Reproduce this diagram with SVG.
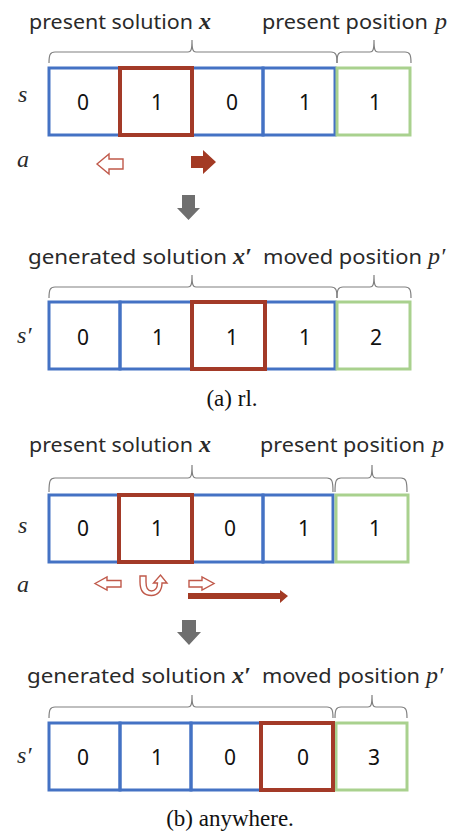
<svg xmlns="http://www.w3.org/2000/svg" width="458" height="831" viewBox="0 0 458 831">
<style>
.lbl{font-family:"Noto Sans","Open Sans",sans-serif;font-size:20.5px;fill:#2a2a2a}
.math{font-family:"Liberation Serif","DejaVu Serif",serif;font-style:italic;font-size:24px;fill:#2a2a2a}
.bx{font-weight:bold}
.dig{font-family:"Noto Sans","Open Sans",sans-serif;font-size:21px;fill:#111;text-anchor:middle}
.cap{font-family:"Liberation Serif","Times New Roman",serif;font-size:23px;fill:#111;text-anchor:middle}
.brace{fill:none;stroke:#808080;stroke-width:1.2}
.b{fill:none;stroke:#4472C4;stroke-width:3}
.r{fill:none;stroke:#A33A28;stroke-width:4}
.g{fill:none;stroke:#A9D18E;stroke-width:3}
.hol{fill:#fff;stroke:#C0594A;stroke-width:1.4;stroke-linejoin:miter}
.fil{fill:#A33A24}
.down{fill:#6F6F6F}
</style>

<!-- Panel (a) -->
<g id="a-top-labels">
<text class="lbl" x="29" y="29" textLength="164" lengthAdjust="spacingAndGlyphs">present solution</text>
<text class="math bx" x="199" y="29">x</text>
<text class="lbl" x="262" y="29" textLength="166" lengthAdjust="spacingAndGlyphs">present position</text>
<text class="math" x="435" y="29">p</text>
</g>
<g id="a-braces-top">
<path class="brace" d="M49,63 C49,55 50,52 55,52 H188 C191,52 192,50 192,40 C192,50 193,52 196,52 H331 C336,52 337,55 337,63"/>
<path class="brace" d="M337,63 C337,55 338,52 343,52 H370 C373,52 374,50 374,40 C374,50 375,52 378,52 H405 C410,52 411,55 411,63"/>
</g>
<g id="a-s-row">
<text class="math" x="18" y="102">s</text>
<rect class="b" x="49" y="68" width="71" height="67"/>
<rect class="b" x="192" y="68" width="71" height="67"/>
<rect class="b" x="263" y="68" width="72" height="67"/>
<rect class="g" x="337" y="68" width="73" height="67"/>
<rect class="r" x="120" y="68" width="72" height="67"/>
<text class="dig" x="83" y="110">0</text>
<text class="dig" x="157" y="110">1</text>
<text class="dig" x="232" y="110">0</text>
<text class="dig" x="305" y="110">1</text>
<text class="dig" x="375" y="110">1</text>
</g>
<g id="a-actions">
<text class="math" x="17" y="167">a</text>
<polygon class="hol" points="97,164 109,154 109,159 123,159 123,169 109,169 109,174"/>
<polygon class="fil" points="191,156 203,156 203,150 216,162 203,174 203,168 191,168"/>
</g>
<g id="a-down">
<polygon class="down" points="182,195 195,195 195,208 200,208 188.5,220 177,208 182,208"/>
</g>
<g id="a-bottom-labels">
<text class="lbl" x="28" y="264" textLength="199" lengthAdjust="spacingAndGlyphs">generated solution</text>
<text class="math bx" x="233" y="264">x′</text>
<text class="lbl" x="263" y="264" textLength="159" lengthAdjust="spacingAndGlyphs">moved position</text>
<text class="math" x="428" y="264">p′</text>
</g>
<g id="a-braces-bottom">
<path class="brace" d="M49,298 C49,290 50,287 55,287 H188 C191,287 192,285 192,275 C192,285 193,287 196,287 H331 C336,287 337,290 337,298"/>
<path class="brace" d="M337,298 C337,290 338,287 343,287 H370 C373,287 374,285 374,275 C374,285 375,287 378,287 H405 C410,287 411,290 411,298"/>
</g>
<g id="a-s2-row">
<text class="math" x="17" y="343">s′</text>
<rect class="b" x="49" y="302" width="71" height="67"/>
<rect class="b" x="120" y="302" width="72" height="67"/>
<rect class="b" x="265" y="302" width="70" height="67"/>
<rect class="g" x="337" y="302" width="73" height="67"/>
<rect class="r" x="192" y="302" width="73" height="67"/>
<text class="dig" x="83" y="345">0</text>
<text class="dig" x="158" y="345">1</text>
<text class="dig" x="232" y="345">1</text>
<text class="dig" x="305" y="345">1</text>
<text class="dig" x="376" y="345">2</text>
</g>
<text class="cap" x="232" y="406">(a) rl.</text>

<!-- Panel (b) -->
<g id="b-top-labels">
<text class="lbl" x="29" y="452" textLength="164" lengthAdjust="spacingAndGlyphs">present solution</text>
<text class="math bx" x="199" y="452">x</text>
<text class="lbl" x="260" y="452" textLength="165" lengthAdjust="spacingAndGlyphs">present position</text>
<text class="math" x="432" y="452">p</text>
</g>
<g id="b-braces-top">
<path class="brace" d="M49,492 C49,481 50,478 55,478 H188 C191,478 192,476 192,465 C192,476 193,478 196,478 H327 C332,478 333,481 333,492"/>
<path class="brace" d="M335,492 C335,481 336,478 341,478 H368 C371,478 372,476 372,465 C372,476 373,478 376,478 H401 C406,478 407,481 407,492"/>
</g>
<g id="b-s-row">
<text class="math" x="18" y="533">s</text>
<rect class="b" x="49" y="495" width="70" height="67"/>
<rect class="b" x="192" y="495" width="71" height="67"/>
<rect class="b" x="263" y="495" width="70" height="67"/>
<rect class="g" x="336" y="495" width="72" height="67"/>
<rect class="r" x="119" y="495" width="73" height="67"/>
<text class="dig" x="83" y="536">0</text>
<text class="dig" x="157" y="536">1</text>
<text class="dig" x="230" y="536">0</text>
<text class="dig" x="304" y="536">1</text>
<text class="dig" x="375" y="536">1</text>
</g>
<g id="b-actions">
<text class="math" x="17" y="592">a</text>
<polygon class="hol" points="95,583.5 107,577 107,580.5 121,580.5 121,587 107,587 107,590"/>
<path class="hol" d="M140,576 H146 V582 C146,589 148,591 151.5,591 C155,591 157.5,588 157.5,583 H153.5 L160.5,575 L167,583 H162 C162,591 157.5,595.5 151.5,595.5 C144,595.5 140,591 140,582 Z"/>
<polygon class="hol" points="189,580.5 202,580.5 202,577 214,583.5 202,590 202,587 189,587"/>
<polygon class="fil" points="188,593 280,593 280,590 288,596 280,603 280,599 188,599"/>
</g>
<g id="b-down">
<polygon class="down" points="182,620 196,620 196,632 201,632 189,645 177,632 182,632"/>
</g>
<g id="b-bottom-labels">
<text class="lbl" x="27" y="683" textLength="199" lengthAdjust="spacingAndGlyphs">generated solution</text>
<text class="math bx" x="232" y="683">x′</text>
<text class="lbl" x="262" y="683" textLength="158" lengthAdjust="spacingAndGlyphs">moved position</text>
<text class="math" x="426" y="683">p′</text>
</g>
<g id="b-braces-bottom">
<path class="brace" d="M49,718 C49,710 50,707 55,707 H188 C191,707 192,705 192,695 C192,705 193,707 196,707 H327 C332,707 333,710 333,718"/>
<path class="brace" d="M335,718 C335,710 336,707 341,707 H368 C371,707 372,705 372,695 C372,705 373,707 376,707 H401 C406,707 407,710 407,718"/>
</g>
<g id="b-s2-row">
<text class="math" x="17" y="763">s′</text>
<rect class="b" x="49" y="723" width="71" height="67"/>
<rect class="b" x="120" y="723" width="71" height="67"/>
<rect class="b" x="191" y="723" width="70" height="67"/>
<rect class="g" x="336" y="723" width="71" height="67"/>
<rect class="r" x="261" y="723" width="72" height="67"/>
<text class="dig" x="83" y="765">0</text>
<text class="dig" x="157" y="765">1</text>
<text class="dig" x="230" y="765">0</text>
<text class="dig" x="303" y="765">0</text>
<text class="dig" x="374" y="765">3</text>
</g>
<text class="cap" x="230" y="826">(b) anywhere.</text>
</svg>
